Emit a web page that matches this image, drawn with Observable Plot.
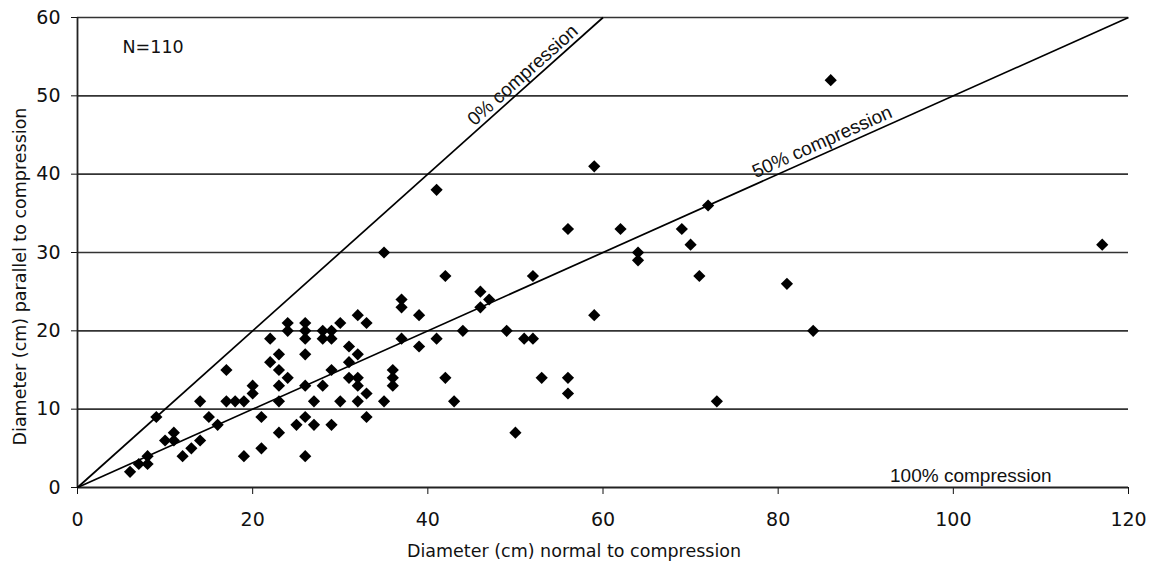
<!DOCTYPE html>
<html><head><meta charset="utf-8">
<script src="https://cdn.jsdelivr.net/npm/d3@7"></script>
<script src="https://cdn.jsdelivr.net/npm/@observablehq/plot@0.6"></script>
<style>
body{margin:0;background:#fff;}
#chart{width:1156px;height:566px;}
</style></head><body><div id="chart"></div>
<script>
// Data: diameter normal (x) and parallel (y) to compression, cm
const diamNormal = [6,7,8,8,9,10,11,11,12,13,14,14,15,16,17,17,18,19,19,20,20,21,21,22,22,
  23,23,23,23,23,24,24,24,25,
  26,26,26,26,26,26,26,27,27,28,28,28,29,29,29,29,30,30,31,31,31,32,32,32,32,32,33,33,33,
  35,35,36,36,36,37,37,37,39,39,41,41,42,42,43,44,46,46,47,49,50,51,52,52,53,56,56,56,
  59,59,62,64,64,69,70,71,72,73,81,84,86,117];
const diamParallel = [2,3,4,3,9,6,7,6,4,5,11,6,9,8,15,11,11,11,4,13,12,9,5,19,16,
  17,15,13,11,7,21,20,14,8,
  21,20,19,17,13,9,4,11,8,20,19,13,20,19,15,8,21,11,18,16,14,22,17,14,13,11,21,12,9,
  30,11,15,14,13,24,23,19,22,18,38,19,27,14,11,20,25,23,24,20,7,19,27,19,14,33,14,12,
  41,22,33,30,29,33,31,27,36,11,26,20,52,31];

const xTicks = [0,20,40,60,80,100,120];
const yTicks = [0,10,20,30,40,50,60];
const gridValues = [10,20,30,40,50,60];
const compressionSlopes = [1, 0.5, 0];
const compressionLabels = ["0% compression","50% compression","100% compression"];
const compressionLabelX = [51.3, 85.3, 102];
const sampleLabel = "N=110";
const xTitle = "Diameter (cm) normal to compression";
const yTitle = "Diameter (cm) parallel to compression";

const W = 1156, H = 566, mL = 77, mR = 28, mT = 17, mB = 79;
const xMax = 120, yMax = 60;
const kx = (W - mL - mR) / xMax, ky = (H - mT - mB) / yMax;
const angleOf = s => -Math.atan(s * ky / kx) * 180 / Math.PI;

const points = diamNormal.map((x, i) => ({x, y: diamParallel[i]}));
const refLines = compressionSlopes.filter(s => s > 0).map(s => {
  const x2 = Math.min(xMax, yMax / s);
  return {x1: 0, y1: 0, x2, y2: x2 * s};
});
const labels = compressionLabels.map((t, i) => ({
  t, x: compressionLabelX[i], y: compressionLabelX[i] * compressionSlopes[i], r: angleOf(compressionSlopes[i])
}));

const diamondSym = {draw(ctx, size) {
  const r = Math.sqrt(size) * 0.62625;
  ctx.moveTo(0, -r); ctx.lineTo(r, 0); ctx.lineTo(0, r); ctx.lineTo(-r, 0); ctx.closePath();
}};

const chart = Plot.plot({
  width: W, height: H,
  marginLeft: mL, marginRight: mR, marginTop: mT, marginBottom: mB,
  style: {fontSize: "19px", fontFamily: "DejaVu Sans", color: "#111", background: "white"},
  x: {domain: [0, xMax], ticks: xTicks, tickSize: 7, tickPadding: 18, label: null, tickFormat: d => d},
  y: {domain: [0, yMax], ticks: yTicks, tickSize: 6, tickPadding: 11, label: null, tickFormat: d => d},
  marks: [
    Plot.ruleY(gridValues, {stroke: "#333", strokeWidth: 1.6}),
    Plot.ruleX([0], {stroke: "#222", strokeWidth: 1.8}),
    Plot.ruleY([0], {stroke: "#222", strokeWidth: 1.8}),
    Plot.link(refLines, {x1: "x1", y1: "y1", x2: "x2", y2: "y2", stroke: "#000", strokeWidth: 1.7}),
    Plot.dot(points, {x: "x", y: "y", symbol: diamondSym, r: 5.5, fill: "#000", stroke: "none"}),
    Plot.text(labels, {x: "x", y: "y", text: "t", rotate: "r", textAnchor: "middle", lineAnchor: "bottom",
      dy: -6, fontFamily: "Liberation Sans", fontSize: 19, fill: "#111"}),
    Plot.text([sampleLabel], {frameAnchor: "top-left", dx: 45, dy: 35, textAnchor: "start", lineAnchor: "bottom",
      fontSize: 17.5, fill: "#111"}),
    Plot.text([xTitle], {frameAnchor: "bottom", dx: -29, dy: 64, textAnchor: "middle", lineAnchor: "middle",
      fontSize: 17.5, fill: "#111"}),
    Plot.text([yTitle], {frameAnchor: "left", dx: -57, dy: 24, rotate: -90, textAnchor: "middle", lineAnchor: "middle",
      fontSize: 17.5, fill: "#111"})
  ]
});
document.getElementById("chart").appendChild(chart);
</script>
</body></html>
